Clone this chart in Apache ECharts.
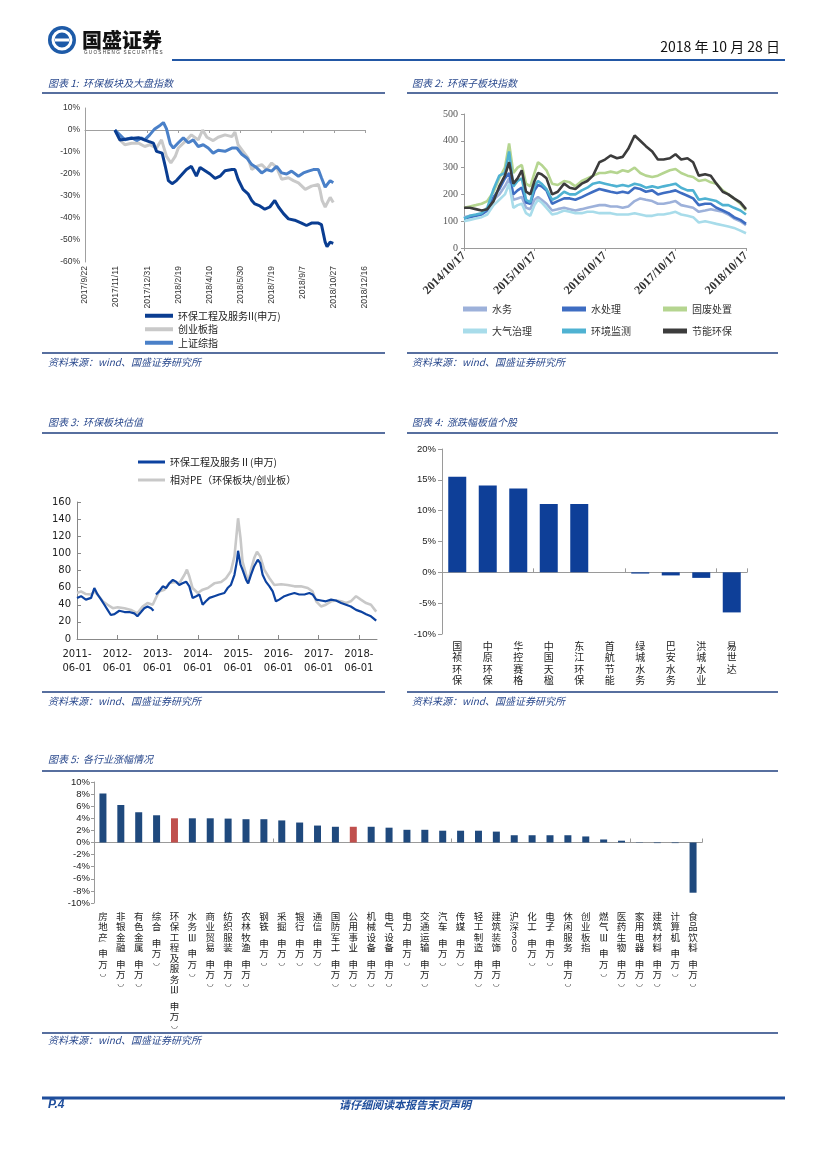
<!DOCTYPE html>
<html><head><meta charset="utf-8">
<script src="https://cdn.jsdelivr.net/npm/echarts@6/dist/echarts.min.js"></script>
<style>html,body{margin:0;padding:0;background:#fff}#c{width:827px;height:1170px}</style>
</head><body><div id="c"></div>
<script>
// ---------- Chart 1: 环保板块及大盘指数 (x = days since 2017-09-22, y = %) ----------
const c1Names = ['环保工程及服务II(申万)', '创业板指', '上证综指'];
const c1Env = [[48,0],[56,-4.5],[70,-4],[86,-3.5],[102,-5.2],[110,-6],[115,-9.7],[124,-10.5],[129,-16.5],[134,-23],[140,-24.4],[147,-23],[155,-20.5],[163,-18],[171,-16.5],[179,-21],[185,-17],[193,-18.5],[201,-20],[209,-22],[217,-21],[225,-18.5],[236,-18],[241,-18],[246,-22.4],[254,-27],[262,-29],[268,-32],[273,-33.6],[281,-34.5],[289,-36],[297,-35],[305,-32],[311,-35],[319,-38],[327,-40.4],[337,-41],[348,-42.3],[356,-43.4],[364,-42.3],[375,-42.3],[380,-43],[383,-47],[386,-51],[389,-53],[394,-51],[399,-51.5]];
const c1Cyb = [[48,0],[56,-4.5],[64,-6.7],[75,-6],[86,-6],[96,-7.5],[104,-6.7],[115,-8.2],[123,-4.5],[131,-12],[138,-15],[145,-12],[150,-8.2],[161,-5.2],[171,-2.2],[182,-4.5],[189,0],[196,-3.3],[206,-4.8],[214,-3.3],[225,-2.2],[236,-3],[241,-1],[246,-6.7],[254,-9.7],[262,-12.7],[268,-18],[276,-16.5],[284,-15.7],[292,-18],[300,-15],[308,-17],[316,-22.4],[327,-21.7],[335,-23],[343,-24],[354,-27],[364,-25.5],[375,-24.7],[378,-27.7],[381,-32],[386,-35],[389,-35],[394,-30.6],[399,-33]];
const c1Szzs = [[48,0],[56,-2.2],[64,-4.5],[75,-3.5],[83,-4.8],[91,-3.6],[96,-4.5],[104,-2.2],[112,0.5],[121,2.2],[126,3.4],[131,0.5],[137,-6.3],[142,-8.2],[150,-5.8],[158,-3.6],[166,-5.8],[174,-4.5],[182,-7.5],[190,-6.7],[198,-8.2],[206,-10.5],[214,-9.2],[225,-9.7],[236,-8.2],[244,-8.2],[252,-11],[260,-12.7],[268,-15.7],[276,-17.2],[284,-19.5],[292,-18],[300,-18.7],[308,-16.5],[316,-19.5],[324,-20],[332,-18.7],[343,-21],[351,-19.5],[359,-18.7],[367,-18],[375,-18],[380,-21.7],[386,-26],[389,-25.5],[394,-23],[399,-24]];

// ---------- Chart 2: 环保子板块指数 (x = years since 2014-10-17) ----------
const c2Names = ['水务', '水处理', '固废处置', '大气治理', '环境监测', '节能环保'];
const c2T = [0,0.083,0.167,0.25,0.33,0.42,0.5,0.58,0.64,0.70,0.76,0.82,0.88,0.94,1.0,1.05,1.1,1.17,1.25,1.33,1.42,1.5,1.58,1.67,1.75,1.83,1.92,2.0,2.08,2.17,2.25,2.33,2.42,2.5,2.58,2.67,2.75,2.83,2.92,3.0,3.08,3.17,3.25,3.33,3.42,3.5,3.58,3.67,3.75,3.83,3.92,4.0];
const c2Water   = [115,120,120,125,140,180,200, 230,260,180,185,190,150,145,180,190,180,165,140, 145,150,145,140,145,150,155,160, 160,155,155,150,155,175,185,180,175,165,165,170, 175,160,155,150,135,140,145,140,135,125,110,100, 85];
const c2WaterTr = [110,115,120,125,140,190,220, 260,280,200,215,225,170,165,215,235,230,215,165, 175,185,185,180,190,200,210,220, 215,210,205,210,205,225,220,210,215,200,205,210, 215,205,195,185,160,165,165,150,140,130,115,105, 90];
const c2Waste   = [150,155,160,165,175,210,260, 300,390,280,300,310,240,230,280,320,310,290,240, 235,250,245,230,250,260,270,280, 280,285,280,290,285,300,280,270,265,270,280,290, 295,280,270,265,250,255,245,240,215,200,185,165, 140];
const c2Air     = [100,105,110,115,125,160,180, 200,240,150,160,165,130,120,160,180,170,150,125, 130,140,135,130,130,135,135,130, 130,130,125,125,125,130,125,120,120,125,125,130, 135,125,120,115,95,100,95,90,85,80,75,65, 55];
const c2Monitor = [110,120,125,130,150,220,270, 280,360,230,250,260,180,170,230,250,240,220,180, 190,210,200,200,215,225,240,245, 240,235,230,235,230,240,235,225,230,225,230,235, 240,225,215,215,180,185,180,175,160,160,150,140, 125];
const c2Energy  = [150,150,145,140,145,175,230, 270,320,240,260,290,210,200,250,280,275,260,200, 210,240,225,220,240,250,270,320, 330,345,335,340,370,420,400,380,360,330,330,335, 350,330,335,320,270,275,270,240,210,200,185,170, 145];

// ---------- Chart 3: 环保板块估值 (x = years since 2011-06-01) ----------
const c3Names = ['环保工程及服务Ⅱ(申万)', '相对PE（环保板块/创业板）'];
const c3Pe = [[0,48],[0.1,50],[0.22,46],[0.35,48],[0.43,59.5],[0.51,52],[0.6,46],[0.68,40],[0.76,34],[0.84,28],[0.93,29],[1.05,33],[1.18,31.5],[1.3,31.5],[1.42,30],[1.5,26.5],[1.59,31.5],[1.67,36],[1.75,38],[1.84,36],[1.9,33],[1.93,'-'],[1.96,52],[2.04,55.6],[2.13,61.5],[2.21,59.5],[2.29,65],[2.38,69],[2.46,67],[2.54,63],[2.62,65],[2.71,67],[2.79,61.5],[2.87,48],[2.96,50],[3.04,52],[3.12,40],[3.2,44],[3.29,48],[3.41,50],[3.53,52],[3.66,53.7],[3.74,59.5],[3.82,63],[3.91,75],[3.97,90.7],[4.0,103],[4.06,86.8],[4.11,81],[4.2,69],[4.25,65],[4.32,75],[4.4,85],[4.49,92.6],[4.55,88.7],[4.61,75],[4.69,67],[4.78,61.5],[4.86,55.6],[4.94,44],[5.02,46],[5.15,50],[5.27,52],[5.4,53.7],[5.52,52],[5.65,52],[5.77,53.7],[5.85,52],[5.94,46],[6.06,45],[6.18,44],[6.31,46],[6.43,45],[6.56,42],[6.68,40],[6.8,38],[6.93,34],[7.05,32],[7.18,29],[7.3,26.5],[7.43,21.4]];
const c3Rel = [[0,53.7],[0.1,55.6],[0.22,52.5],[0.35,52],[0.43,55.6],[0.51,52],[0.64,44],[0.76,40],[0.89,36],[1.01,37],[1.18,36],[1.34,34],[1.5,30],[1.63,38],[1.75,42],[1.88,40],[1.96,48],[2.04,55.6],[2.17,57.6],[2.29,65],[2.42,66.5],[2.54,65],[2.67,75],[2.73,81],[2.79,73],[2.87,59.5],[3.0,53.7],[3.12,57.6],[3.25,59.5],[3.41,65],[3.58,66.5],[3.7,71],[3.82,79],[3.91,96.5],[3.97,125.7],[4.0,141],[4.06,118],[4.11,90.7],[4.2,75],[4.25,65],[4.32,81],[4.4,94.5],[4.47,102],[4.55,96.5],[4.65,81],[4.78,71],[4.9,63],[5.07,64],[5.23,63],[5.4,61.5],[5.56,61.5],[5.73,59.5],[5.85,55.6],[5.94,44],[6.06,38],[6.18,40],[6.31,44],[6.43,45],[6.56,44],[6.68,42],[6.8,44],[6.93,50],[7.05,46],[7.18,42],[7.3,40],[7.43,32]];

// ---------- Chart 4: 涨跌幅板值个股 (%) ----------
const c4Names = ['国祯环保','中原环保','华控赛格','中国天楹','东江环保','首航节能','绿城水务','巴安水务','洪城水业','易世达'];
const c4Vals = [15.5, 14.1, 13.6, 11.1, 11.1, 0, -0.2, -0.5, -0.9, -6.5];

// ---------- Chart 5: 各行业涨幅情况 (%) ----------
const c5Names = ['房地产(申万)','非银金融(申万)','有色金属(申万)','综合(申万)','环保工程及服务Ⅲ(申万)','水务Ⅲ(申万)','商业贸易(申万)','纺织服装(申万)','农林牧渔(申万)','钢铁(申万)','采掘(申万)','银行(申万)','通信(申万)','国防军工(申万)','公用事业(申万)','机械设备(申万)','电气设备(申万)','电力(申万)','交通运输(申万)','汽车(申万)','传媒(申万)','轻工制造(申万)','建筑装饰(申万)','沪深300','化工(申万)','电子(申万)','休闲服务(申万)','创业板指','燃气Ⅲ(申万)','医药生物(申万)','家用电器(申万)','建筑材料(申万)','计算机(申万)','食品饮料(申万)'];
const c5Vals = [8.1, 6.2, 5.0, 4.5, 4.0, 4.0, 4.0, 3.95, 3.85, 3.85, 3.65, 3.3, 2.8, 2.6, 2.6, 2.6, 2.45, 2.1, 2.1, 1.95, 1.95, 1.95, 1.8, 1.2, 1.2, 1.2, 1.2, 1.0, 0.5, 0.3, 0.05, -0.1, -0.1, -8.3];
const c5Highlight = ['环保工程及服务Ⅲ(申万)', '公用事业(申万)'];

// ---------- build ----------
const CJK = '"Noto Sans CJK SC"';
const titleColor = '#2B4A8E';
const c1Start = Date.UTC(2017, 8, 22);
function c1Fmt(v) { const d = new Date(c1Start + v * 864e5); return d.getUTCFullYear() + '/' + (d.getUTCMonth() + 1) + '/' + d.getUTCDate(); }
function stack(name) { return name.split('').join('\n'); }
function stackRich(name) {
  return name.split('').map(function (ch) {
    if (ch === '(') return '{p|⌒}';
    if (ch === ')') return '{q|◡}';
    if (/[0-9]/.test(ch)) return '{d|' + ch + '}';
    return ch;
  }).join('\n');
}
function T(x, y, text, st) { return { type: 'text', x: x, y: y, style: Object.assign({ text: text, fill: '#000', font: '10px ' + CJK, textVerticalAlign: 'middle' }, st || {}) }; }
function L(x1, y1, x2, y2, c, w) { return { type: 'line', shape: { x1: x1, y1: y1, x2: x2, y2: y2 }, style: { stroke: c, lineWidth: w } }; }
const titleFont = 'italic 10px ' + CJK;
const srcText = '资料来源：wind、国盛证券研究所';

const graphics = [
  { type: 'circle', shape: { cx: 62, cy: 40, r: 14 }, style: { fill: '#1E5BA8' } },
  { type: 'circle', shape: { cx: 62, cy: 40, r: 9 }, style: { fill: 'none', stroke: '#fff', lineWidth: 3 } },
  L(55, 40, 69, 40, '#fff', 3),
  T(82, 40, '国盛证券', { font: '900 20px ' + CJK, fill: '#111' }),
  T(84, 53, 'G U O S H E N G   S E C U R I T I E S', { font: '4.6px "Liberation Sans"', fill: '#333' }),
  L(172, 60, 785, 60, '#2257A5', 2),
  T(780, 47, '2018 年 10 月 28 日', { textAlign: 'right', font: '14px ' + CJK, fill: '#111' }),
  T(48, 83, '图表 1:  环保板块及大盘指数', { font: titleFont, fill: titleColor }),
  L(42, 93, 385, 93, '#1F3F7F', 1.5),
  T(412, 83, '图表 2:  环保子板块指数', { font: titleFont, fill: titleColor }),
  L(407, 93, 778, 93, '#1F3F7F', 1.5),
  L(42, 353, 385, 353, '#1F3F7F', 1.5),
  L(407, 353, 778, 353, '#1F3F7F', 1.5),
  T(48, 362, srcText, { font: titleFont, fill: titleColor }),
  T(412, 362, srcText, { font: titleFont, fill: titleColor }),
  T(48, 422, '图表 3:  环保板块估值', { font: titleFont, fill: titleColor }),
  L(42, 433, 385, 433, '#1F3F7F', 1.5),
  T(412, 422, '图表 4:  涨跌幅板值个股', { font: titleFont, fill: titleColor }),
  L(407, 433, 778, 433, '#1F3F7F', 1.5),
  L(42, 692, 385, 692, '#1F3F7F', 1.5),
  L(407, 692, 778, 692, '#1F3F7F', 1.5),
  T(48, 701, srcText, { font: titleFont, fill: titleColor }),
  T(412, 701, srcText, { font: titleFont, fill: titleColor }),
  T(48, 759, '图表 5:  各行业涨幅情况', { font: titleFont, fill: titleColor }),
  L(42, 771, 778, 771, '#1F3F7F', 1.5),
  L(42, 1033, 778, 1033, '#1F3F7F', 1.5),
  T(48, 1040, srcText, { font: titleFont, fill: titleColor }),
  L(42, 1098, 785, 1098, '#1F4E9C', 3),
  T(48, 1105, 'P.4', { font: 'bold italic 12px "Liberation Sans"', fill: '#1F4E9C' }),
  T(405, 1105, '请仔细阅读本报告末页声明', { textAlign: 'center', font: 'bold italic 11px ' + CJK, fill: '#1F4E9C' })
];

const axisGray = { lineStyle: { color: '#9A9A9A', width: 1 } };
const noSplit = { show: false };

const c2Colors = ['#9DB1DA', '#3E6DC2', '#B5D590', '#A8DCEA', '#4FB2D2', '#3C3C3C'];
const c2Data = [c2Water, c2WaterTr, c2Waste, c2Air, c2Monitor, c2Energy];

const option = {
  backgroundColor: '#fff',
  animation: false,
  graphic: graphics,
  grid: [
    { left: 85, top: 108, width: 280, height: 154 },
    { left: 464, top: 114, width: 282, height: 134 },
    { left: 77, top: 502, width: 300, height: 137 },
    { left: 442, top: 449, width: 305, height: 185 },
    { left: 94, top: 782, width: 608, height: 121 }
  ],
  legend: [
    { orient: 'vertical', left: 140, top: 304, itemWidth: 28, itemHeight: 4, itemGap: 0, icon: 'rect',
      data: c1Names, textStyle: { fontSize: 10, fontFamily: CJK, color: '#222', lineHeight: 13.5 } },
    { orient: 'vertical', left: 458, top: 298, itemWidth: 24, itemHeight: 5, itemGap: 10, icon: 'rect',
      data: [c2Names[0], c2Names[3]], textStyle: { fontSize: 10, fontFamily: CJK, color: '#333', lineHeight: 12 } },
    { orient: 'vertical', left: 557, top: 298, itemWidth: 24, itemHeight: 5, itemGap: 10, icon: 'rect',
      data: [c2Names[1], c2Names[4]], textStyle: { fontSize: 10, fontFamily: CJK, color: '#333', lineHeight: 12 } },
    { orient: 'vertical', left: 658, top: 298, itemWidth: 24, itemHeight: 5, itemGap: 10, icon: 'rect',
      data: [c2Names[2], c2Names[5]], textStyle: { fontSize: 10, fontFamily: CJK, color: '#333', lineHeight: 12 } },
    { orient: 'vertical', left: 133, top: 451, itemWidth: 27, itemHeight: 3, itemGap: 6, icon: 'rect',
      data: c3Names, textStyle: { fontSize: 10, fontFamily: CJK, color: '#222', lineHeight: 12 } }
  ],
  xAxis: [
    { gridIndex: 0, type: 'value', min: 0, max: 450, interval: 50, axisLine: { show: false, onZero: false },
      axisTick: { show: false }, splitLine: noSplit,
      axisLabel: { rotate: 90, formatter: c1Fmt, fontSize: 8.5, fontFamily: 'Liberation Sans', color: '#333', margin: 4 } },
    { gridIndex: 0, type: 'value', min: 0, max: 450, interval: 50, axisLine: { show: true, onZero: true, lineStyle: { color: '#A0A0A0' } },
      axisTick: { show: true, inside: true, length: 3, lineStyle: { color: '#A0A0A0' } }, axisLabel: { show: false }, splitLine: noSplit },
    { gridIndex: 1, type: 'value', min: 0, max: 4, interval: 1, axisLine: Object.assign({ onZero: false }, axisGray),
      axisTick: { show: true, length: 3, lineStyle: { color: '#9A9A9A' } }, splitLine: noSplit,
      axisLabel: { rotate: 45, formatter: function (v) { return (2014 + v) + '/10/17'; }, fontSize: 12, fontWeight: 'bold', fontFamily: 'Liberation Serif', color: '#333', margin: 6 } },
    { gridIndex: 2, type: 'value', min: 0, max: 7.45, interval: 1, axisLine: { onZero: false, lineStyle: { color: '#888' } },
      axisTick: { show: true, inside: true, length: 4, lineStyle: { color: '#888' } }, splitLine: noSplit,
      axisLabel: { formatter: function (v) { return (2011 + v) + '-\n06-01'; }, fontSize: 10, fontFamily: 'DejaVu Sans', color: '#222', margin: 8, lineHeight: 14, showMaxLabel: false } },
    { gridIndex: 3, type: 'category', data: c4Names, position: 'bottom', axisLine: { show: false, onZero: false },
      axisTick: { show: false }, splitLine: noSplit,
      axisLabel: { interval: 0, formatter: stack, fontSize: 10, lineHeight: 11.5, fontFamily: CJK, color: '#222', margin: 6 } },
    { gridIndex: 3, type: 'category', data: c4Names, axisLine: { show: true, onZero: true, lineStyle: { color: '#9A9A9A' } },
      axisTick: { show: true, length: 4, lineStyle: { color: '#9A9A9A' } }, axisLabel: { show: false }, splitLine: noSplit },
    { gridIndex: 4, type: 'category', data: c5Names, position: 'bottom', axisLine: { show: false, onZero: false },
      axisTick: { show: false }, splitLine: noSplit,
      axisLabel: { interval: 0, formatter: stackRich, fontSize: 9.5, lineHeight: 10.5, fontFamily: CJK, color: '#222', margin: 8,
        rich: { p: { fontSize: 8, lineHeight: 6, fontFamily: 'DejaVu Sans', color: '#222', verticalAlign: 'bottom' },
                q: { fontSize: 8, lineHeight: 6, fontFamily: 'DejaVu Sans', color: '#222', verticalAlign: 'top' },
                d: { fontSize: 9, lineHeight: 7, fontFamily: 'Liberation Sans', color: '#222' } } } },
    { gridIndex: 4, type: 'category', data: c5Names, axisLine: { show: true, onZero: true, lineStyle: { color: '#9A9A9A' } },
      axisTick: { show: true, length: 4, lineStyle: { color: '#9A9A9A' } }, axisLabel: { show: false }, splitLine: noSplit }
  ],
  yAxis: [
    { gridIndex: 0, type: 'value', min: -60, max: 10, interval: 10, axisLine: { show: true, lineStyle: { color: '#A0A0A0' } },
      axisTick: { show: false }, splitLine: noSplit,
      axisLabel: { formatter: '{value}%', fontSize: 8.5, fontFamily: 'Liberation Sans', color: '#333', margin: 5 } },
    { gridIndex: 1, type: 'value', min: 0, max: 500, interval: 100, axisLine: Object.assign({ show: true }, axisGray),
      axisTick: { show: true, length: 3, lineStyle: { color: '#9A9A9A' } }, splitLine: noSplit,
      axisLabel: { fontSize: 10, fontFamily: 'Liberation Serif', color: '#555', margin: 6 } },
    { gridIndex: 2, type: 'value', min: 0, max: 160, interval: 20, axisLine: { show: true, lineStyle: { color: '#888' } },
      axisTick: { show: true, inside: true, length: 4, lineStyle: { color: '#888' } }, splitLine: noSplit,
      axisLabel: { fontSize: 10, fontFamily: 'DejaVu Sans', color: '#222', margin: 6 } },
    { gridIndex: 3, type: 'value', min: -10, max: 20, interval: 5, axisLine: { show: true, lineStyle: { color: '#9A9A9A' } },
      axisTick: { show: true, length: 4, lineStyle: { color: '#9A9A9A' } }, splitLine: noSplit,
      axisLabel: { formatter: '{value}%', fontSize: 9.5, fontFamily: 'Liberation Sans', color: '#222', margin: 6 } },
    { gridIndex: 4, type: 'value', min: -10, max: 10, interval: 2, axisLine: { show: true, lineStyle: { color: '#9A9A9A' } },
      axisTick: { show: true, length: 3, lineStyle: { color: '#9A9A9A' } }, splitLine: noSplit,
      axisLabel: { formatter: '{value}%', fontSize: 9.5, fontFamily: 'Liberation Sans', color: '#222', margin: 4 } }
  ],
  series: []
};

const lineBase = { type: 'line', showSymbol: false, symbol: 'none', smooth: false };
option.series.push(Object.assign({}, lineBase, { name: c1Names[1], xAxisIndex: 0, yAxisIndex: 0, data: c1Cyb, z: 2, color: '#C9C9C9', lineStyle: { width: 3, color: '#C9C9C9' } }));
option.series.push(Object.assign({}, lineBase, { name: c1Names[2], xAxisIndex: 0, yAxisIndex: 0, data: c1Szzs, z: 3, color: '#4A80C8', lineStyle: { width: 3, color: '#4A80C8' } }));
option.series.push(Object.assign({}, lineBase, { name: c1Names[0], xAxisIndex: 0, yAxisIndex: 0, data: c1Env, z: 4, color: '#0A3D91', lineStyle: { width: 3, color: '#0A3D91' } }));

c2Names.forEach(function (n, i) {
  option.series.push(Object.assign({}, lineBase, { name: n, xAxisIndex: 2, yAxisIndex: 1, z: 2 + i, color: c2Colors[i],
    data: c2T.map(function (t, k) { return [t, c2Data[i][k]]; }), lineStyle: { width: 2.6, color: c2Colors[i] } }));
});

option.series.push(Object.assign({}, lineBase, { name: c3Names[1], xAxisIndex: 3, yAxisIndex: 2, data: c3Rel, z: 2, color: '#C8C8C8', lineStyle: { width: 2.6, color: '#C8C8C8' } }));
option.series.push(Object.assign({}, lineBase, { name: c3Names[0], xAxisIndex: 3, yAxisIndex: 2, data: c3Pe, z: 3, connectNulls: false, color: '#0C42A0', lineStyle: { width: 2.2, color: '#0C42A0' } }));

option.series.push({ type: 'bar', name: 'c4', xAxisIndex: 4, yAxisIndex: 3, data: c4Vals, barWidth: 18, itemStyle: { color: '#0E3F98' } });
option.series.push({ type: 'bar', name: 'c5', xAxisIndex: 6, yAxisIndex: 4, barWidth: 7,
  data: c5Vals.map(function (v, i) { return { value: v, itemStyle: { color: c5Highlight.indexOf(c5Names[i]) >= 0 ? '#C0504D' : '#1F497D' } }; }) });

const chart = echarts.init(document.getElementById('c'), null, { renderer: 'canvas' });
chart.setOption(option);
</script></body></html>
